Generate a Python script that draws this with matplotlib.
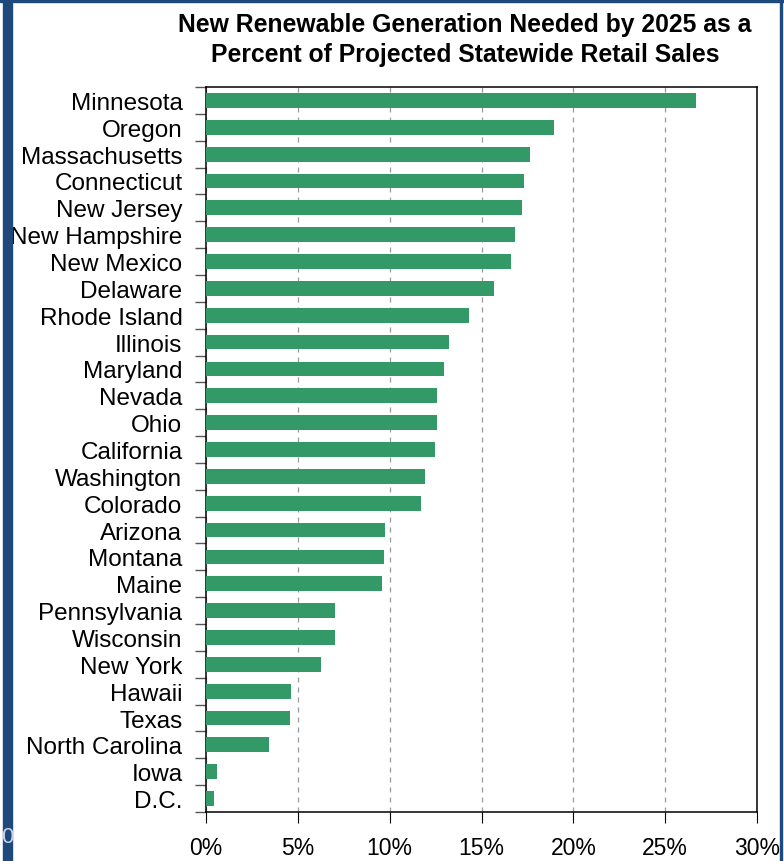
import matplotlib as mpl
mpl.use("Agg")
import matplotlib.pyplot as plt
import matplotlib.patches as mpatches
from matplotlib.ticker import FuncFormatter, MultipleLocator

plt.rcParams["font.family"] = ["Liberation Sans", "DejaVu Sans"]

states = ["Minnesota", "Oregon", "Massachusetts", "Connecticut", "New Jersey",
          "New Hampshire", "New Mexico", "Delaware", "Rhode Island", "Illinois",
          "Maryland", "Nevada", "Ohio", "California", "Washington", "Colorado",
          "Arizona", "Montana", "Maine", "Pennsylvania", "Wisconsin", "New York",
          "Hawaii", "Texas", "North Carolina", "Iowa", "D.C."]
pct = [26.7, 18.95, 17.65, 17.3, 17.2, 16.8, 16.6, 15.7, 14.3, 13.25,
       12.95, 12.6, 12.55, 12.45, 11.95, 11.7, 9.75, 9.7, 9.6, 7.05,
       7.0, 6.25, 4.65, 4.55, 3.45, 0.6, 0.45]
title = "New Renewable Generation Needed by 2025 as a\nPercent of Projected Statewide Retail Sales"

fig = plt.figure(figsize=(7.84, 8.62), dpi=100)
ax = fig.add_axes([206/784, 1-813/862, (757-206)/784, (813-88)/862])

y = list(range(len(states)))
ax.barh(y, pct, height=0.55, color="#339966", zorder=3)
ax.set_ylim(len(states)-0.5, -0.5)
ax.set_xlim(0, 30)

ax.set_yticks(y)
ax.set_yticklabels(states, fontsize=17.5)
ax.set_yticks([i + 0.5 for i in range(-1, len(states))], minor=True)
ax.tick_params(axis="y", which="major", length=0, pad=17)
ax.tick_params(axis="y", which="minor", length=8, width=1, color="#555555")

ax.xaxis.set_major_locator(MultipleLocator(5))
ax.xaxis.set_major_formatter(FuncFormatter(lambda v, p: "%d%%" % v))
ax.tick_params(axis="x", labelsize=16.5, length=8, pad=9)
ax.grid(axis="x", color="#999999", linestyle=(0, (4, 4)), linewidth=0.9, zorder=0)

for s in ax.spines.values():
    s.set_linewidth(1.1)

fig.text(465/784, 1-40/862, title, ha="center", va="center", fontsize=17.8,
         fontweight="bold", linespacing=1.3)

# blue slide frame
blue = "#1F497D"
fig.patches.append(mpatches.Rectangle((3/784, 0), 9/784, 1, transform=fig.transFigure,
                                      color=blue, zorder=0))
fig.patches.append(mpatches.Rectangle((0, 1-3/862), 1, 3/862, transform=fig.transFigure,
                                      color=blue, zorder=0))
fig.patches.append(mpatches.Rectangle((780/784, 0), 2/784, 1, transform=fig.transFigure,
                                      color=blue, zorder=0))
fig.text(7.5/784, 1-838/862, "0", ha="center", va="center", fontsize=16, color="#C8D4E6")

fig.savefig("out.png", dpi=100)
